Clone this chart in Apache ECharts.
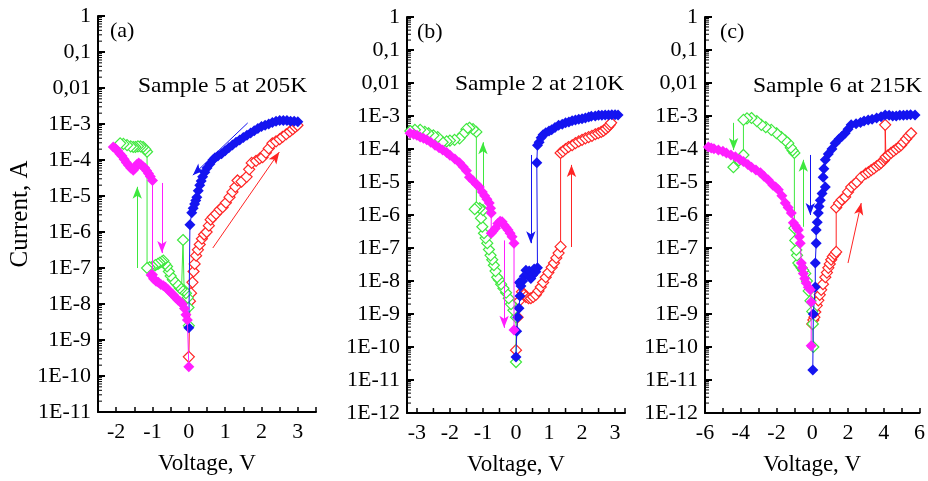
<!DOCTYPE html>
<html><head><meta charset="utf-8">
<script src="https://cdn.jsdelivr.net/npm/echarts@6/dist/echarts.min.js"></script>
<style>html,body{margin:0;padding:0;background:#fff}#c{width:928px;height:481px}</style>
</head><body><div id="c"></div>
<script>
// ---------- data: [Voltage V, Current A] ----------
const aBlue = [[3.0,1.15e-3],[2.9,1.2e-3],[2.8,1.2e-3],[2.7,1.25e-3],[2.6,1.25e-3],[2.5,1.25e-3],[2.4,1.2e-3],[2.3,1.1e-3],[2.2,1.0e-3],[2.1,9.3e-4],[2.0,8.5e-4],[1.9,7.5e-4],[1.8,6.5e-4],[1.7,5.6e-4],[1.6,4.9e-4],[1.5,4.2e-4],[1.4,3.6e-4],[1.3,3.1e-4],[1.2,2.6e-4],[1.1,2.2e-4],[1.0,1.8e-4],[0.9,1.5e-4],[0.8,1.3e-4],[0.72,1.15e-4],[0.66,1.0e-4],[0.58,7.8e-5],[0.5,6e-5],[0.44,4.6e-5],[0.38,3.4e-5],[0.34,2.6e-5],[0.3,2.0e-5],[0.26,1.4e-5],[0.22,9.3e-6],[0.19,7.5e-6],[0.16,6e-6],[0.12,4.6e-6],[0.08,3.4e-6],[0.03,1.6e-6],[0,2.2e-9]];
const aRed = [[0,3.4e-10],[0.03,1.2e-8],[0.06,2.0e-8],[0.1,4e-8],[0.13,8e-8],[0.16,1.3e-7],[0.2,2.2e-7],[0.25,3.2e-7],[0.3,4.5e-7],[0.36,6.5e-7],[0.42,8.5e-7],[0.49,1.0e-6],[0.55,1.5e-6],[0.6,2.2e-6],[0.66,2.6e-6],[0.75,3.2e-6],[0.85,4.2e-6],[0.93,4.9e-6],[1.02,6.5e-6],[1.12,9.3e-6],[1.2,1.3e-5],[1.28,1.8e-5],[1.34,2.7e-5],[1.45,2.5e-5],[1.59,3.4e-5],[1.66,5.5e-5],[1.73,8.3e-5],[1.85,9.5e-5],[1.95,1.1e-4],[2.03,1.2e-4],[2.12,1.6e-4],[2.2,2.1e-4],[2.3,2.9e-4],[2.4,3.3e-4],[2.5,3.8e-4],[2.58,4.4e-4],[2.68,5.2e-4],[2.78,6.2e-4],[2.86,7.2e-4],[2.93,8.3e-4],[2.99,9.3e-4]];
const aGreen = [[0,2.5e-9],[-0.01,8e-9],[-0.03,1.5e-8],[-0.08,2e-8],[-0.13,2.4e-8],[-0.16,6e-7],[-0.2,2.6e-8],[-0.25,2.8e-8],[-0.3,3.3e-8],[-0.35,3.8e-8],[-0.44,4.7e-8],[-0.5,6e-8],[-0.55,8e-8],[-0.6,1.1e-7],[-0.65,1.3e-7],[-0.7,1.6e-7],[-0.74,1.5e-7],[-0.8,1.4e-7],[-0.85,1.3e-7],[-0.92,1.2e-7],[-1.0,1.1e-7],[-1.08,1.05e-7],[-1.15,1.0e-7],[-1.15,1.7e-4],[-1.2,2.0e-4],[-1.26,2.3e-4],[-1.33,2.4e-4],[-1.4,2.4e-4],[-1.47,2.3e-4],[-1.53,2.3e-4],[-1.6,2.4e-4],[-1.7,2.6e-4],[-1.8,2.8e-4],[-1.89,2.9e-4]];
const aMagenta = [[-2.08,2.3e-4],[-2.02,2.1e-4],[-1.96,1.8e-4],[-1.9,1.5e-4],[-1.84,1.3e-4],[-1.78,1.05e-4],[-1.72,8.5e-5],[-1.66,7.2e-5],[-1.6,6e-5],[-1.53,5.2e-5],[-1.48,6e-5],[-1.43,7.5e-5],[-1.38,8.3e-5],[-1.32,7.5e-5],[-1.26,6.5e-5],[-1.21,6e-5],[-1.16,5e-5],[-1.11,4.2e-5],[-1.06,3.5e-5],[-1.0,2.7e-5],[-1.0,6.5e-8],[-1.04,6.4e-8],[-0.97,5e-8],[-0.9,4.3e-8],[-0.84,4e-8],[-0.77,3.5e-8],[-0.7,3.2e-8],[-0.64,2.9e-8],[-0.57,2.5e-8],[-0.5,2.1e-8],[-0.43,1.8e-8],[-0.36,1.5e-8],[-0.3,1.3e-8],[-0.24,1.15e-8],[-0.18,1e-8],[-0.12,7.5e-9],[-0.08,5e-9],[-0.04,3.6e-9],[0,1.8e-10]];

const bBlue = [[3.09,1.07e-3],[3.0,1.1e-3],[2.9,1.1e-3],[2.8,1.08e-3],[2.7,1.07e-3],[2.6,1.05e-3],[2.5,1.05e-3],[2.4,1.0e-3],[2.28,9.8e-4],[2.2,9.3e-4],[2.1,8.7e-4],[2.0,8.3e-4],[1.9,8e-4],[1.8,7.6e-4],[1.7,7.2e-4],[1.6,6.6e-4],[1.5,6.2e-4],[1.4,5.6e-4],[1.29,5.2e-4],[1.18,4.5e-4],[1.08,3.8e-4],[1.0,3.5e-4],[0.9,3.1e-4],[0.82,2.7e-4],[0.76,2.2e-4],[0.7,1.6e-4],[0.65,1.3e-4],[0.63,3.8e-5],[0.65,2.5e-8],[0.6,1.9e-8],[0.55,2.3e-8],[0.5,1.5e-8],[0.45,1.2e-8],[0.4,2e-8],[0.35,1.6e-8],[0.3,2.1e-8],[0.25,1.4e-8],[0.2,1.0e-8],[0.15,7e-9],[0.1,9e-9],[0.12,3.5e-9],[0.09,1.5e-9],[0.05,8e-10],[0.02,3e-10],[0,5e-11]];
const bRed = [[0,8e-11],[0.05,8e-10],[0.1,2.5e-9],[0.18,4.7e-9],[0.24,3.8e-9],[0.3,3.3e-9],[0.38,3e-9],[0.45,3e-9],[0.52,3.3e-9],[0.6,3.8e-9],[0.68,5e-9],[0.75,6.6e-9],[0.82,9e-9],[0.9,1.3e-8],[0.98,1.8e-8],[1.08,2.6e-8],[1.15,3.5e-8],[1.22,5e-8],[1.29,7e-8],[1.35,1.1e-7],[1.35,7.6e-5],[1.42,8.5e-5],[1.5,1.0e-4],[1.59,1.15e-4],[1.7,1.3e-4],[1.8,1.5e-4],[1.9,1.7e-4],[2.0,1.9e-4],[2.1,2.1e-4],[2.2,2.3e-4],[2.3,2.5e-4],[2.4,2.8e-4],[2.49,3e-4],[2.58,3.3e-4],[2.65,3.6e-4],[2.72,4.1e-4],[2.79,4.7e-4],[2.84,5.4e-4],[2.88,6.2e-4]];
const bGreen = [[0,3.5e-11],[0,8e-10],[-0.08,1.3e-9],[-0.15,2e-9],[-0.22,3e-9],[-0.3,4.4e-9],[-0.38,6e-9],[-0.45,8e-9],[-0.52,1.1e-8],[-0.57,1.3e-8],[-0.62,2e-8],[-0.67,3e-8],[-0.72,4.4e-8],[-0.77,6e-8],[-0.82,9e-8],[-0.87,1.4e-7],[-0.92,2e-7],[-0.97,2.8e-7],[-1.02,4.4e-7],[-1.06,8e-7],[-1.0,1.4e-6],[-1.1,1.6e-6],[-1.2,1.7e-6],[-1.25,1.5e-6],[-1.2,3.3e-4],[-1.3,4.0e-4],[-1.41,4.4e-4],[-1.5,4.0e-4],[-1.6,2.8e-4],[-1.71,2.1e-4],[-1.86,1.9e-4],[-2.0,1.8e-4],[-2.1,1.7e-4],[-2.22,1.6e-4],[-2.37,2.3e-4],[-2.5,2.6e-4],[-2.65,3e-4],[-2.76,3.3e-4],[-2.9,3.8e-4],[-3.06,3.8e-4],[-3.2,3.5e-4]];
const bMagenta = [[-3.21,3e-4],[-3.1,2.8e-4],[-3.0,2.6e-4],[-2.9,2.3e-4],[-2.8,2.1e-4],[-2.7,1.9e-4],[-2.58,1.6e-4],[-2.45,1.3e-4],[-2.33,1.1e-4],[-2.22,9.3e-5],[-2.1,7.8e-5],[-2.0,6.5e-5],[-1.85,5e-5],[-1.71,3.8e-5],[-1.6,2.9e-5],[-1.5,2.2e-5],[-1.41,1.4e-5],[-1.3,1.1e-5],[-1.2,8.5e-6],[-1.11,7e-6],[-1.02,5e-6],[-0.95,3.8e-6],[-0.88,3e-6],[-0.81,2.3e-6],[-0.77,1.6e-6],[-0.75,1.15e-6],[-0.75,2.8e-7],[-0.7,3.2e-7],[-0.62,4e-7],[-0.55,5.5e-7],[-0.48,6.5e-7],[-0.42,6.2e-7],[-0.36,5e-7],[-0.3,4.2e-7],[-0.24,3.5e-7],[-0.18,2.8e-7],[-0.12,2.2e-7],[-0.06,1.4e-7],[-0.06,3.3e-10]];

const cBlue = [[5.75,1.07e-3],[5.5,1.1e-3],[5.3,1.07e-3],[5.1,1.05e-3],[4.9,1.05e-3],[4.7,1.0e-3],[4.5,1.0e-3],[4.3,1.05e-3],[4.08,1.07e-3],[3.85,9.5e-4],[3.6,8.7e-4],[3.35,8e-4],[3.13,7.6e-4],[2.9,7e-4],[2.7,6.4e-4],[2.45,5.8e-4],[2.18,5.4e-4],[2.0,4e-4],[1.84,3.0e-4],[1.65,2.4e-4],[1.5,2.0e-4],[1.28,1.5e-4],[1.1,1.0e-4],[0.9,7e-5],[0.73,4.7e-5],[0.65,2.5e-5],[0.61,1.4e-5],[0.73,7e-6],[0.55,4.5e-6],[0.45,2.8e-6],[0.38,1.8e-6],[0.34,1.15e-6],[0.28,6e-7],[0.22,3.5e-7],[0.22,1.4e-7],[0.17,3.5e-8],[0.17,6.6e-9],[0.06,1e-9],[0.03,2e-11]];
const cRed = [[0,5e-10],[0.06,6.6e-10],[0.12,8e-10],[0.17,1.15e-9],[0.25,1.8e-9],[0.34,2.6e-9],[0.42,3.8e-9],[0.5,5.4e-9],[0.6,8e-9],[0.73,1.3e-8],[0.82,1.8e-8],[0.9,2.5e-8],[0.98,3.3e-8],[1.06,4.4e-8],[1.15,5.5e-8],[1.25,6.5e-8],[1.34,7.6e-8],[1.34,1.7e-6],[1.5,2.3e-6],[1.65,2.9e-6],[1.84,3.5e-6],[2.0,5e-6],[2.18,7e-6],[2.35,8.5e-6],[2.5,1.0e-5],[2.74,1.4e-5],[3.0,1.8e-5],[3.15,2.0e-5],[3.3,2.3e-5],[3.45,2.6e-5],[3.6,3e-5],[3.75,3.4e-5],[3.85,3.8e-5],[4.0,4.5e-5],[4.08,5.2e-5],[4.08,5.4e-4],[4.12,5.8e-5],[4.25,6.5e-5],[4.41,7.6e-5],[4.55,8.7e-5],[4.7,1.0e-4],[4.85,1.15e-4],[4.97,1.3e-4],[5.1,1.6e-4],[5.25,2e-4],[5.4,2.5e-4],[5.53,3e-4]];
const cGreen = [[0.06,1e-10],[0.03,5e-10],[0,1.2e-9],[-0.1,2.5e-9],[-0.2,5e-9],[-0.3,1e-8],[-0.39,1.7e-8],[-0.5,2.1e-8],[-0.6,2.5e-8],[-0.7,3e-8],[-0.78,3.5e-8],[-0.85,6e-8],[-0.89,8.7e-8],[-0.95,1.7e-7],[-1.0,4e-7],[-1.0,7.6e-5],[-1.1,9e-5],[-1.2,1.1e-4],[-1.34,1.5e-4],[-1.5,1.8e-4],[-1.73,2.3e-4],[-2.0,3e-4],[-2.29,3.8e-4],[-2.6,4.6e-4],[-2.85,5.4e-4],[-3.1,7e-4],[-3.4,8.7e-4],[-3.65,8.5e-4],[-3.85,7.6e-4],[-3.85,6.6e-5],[-4.1,4.5e-5],[-4.41,2.8e-5]];
const cMagenta = [[-5.81,1.15e-4],[-5.65,1.08e-4],[-5.5,1.02e-4],[-5.25,9.3e-5],[-5.0,8.5e-5],[-4.8,7.6e-5],[-4.55,6.6e-5],[-4.3,5.8e-5],[-4.05,4.8e-5],[-3.85,4.2e-5],[-3.6,3.4e-5],[-3.4,2.8e-5],[-3.15,2.3e-5],[-2.9,1.9e-5],[-2.7,1.5e-5],[-2.46,1.15e-5],[-2.2,8e-6],[-2.05,7e-6],[-1.9,5.8e-6],[-1.7,3.8e-6],[-1.51,2.3e-6],[-1.35,1.7e-6],[-1.17,1.15e-6],[-1.06,5.8e-7],[-0.95,4.8e-7],[-0.85,4e-7],[-0.78,3.5e-7],[-0.72,2.2e-7],[-0.67,1.4e-7],[-0.61,3.5e-8],[-0.55,2.5e-8],[-0.5,1.7e-8],[-0.42,1.2e-8],[-0.34,8.7e-9],[-0.22,6.5e-9],[-0.11,5.4e-9],[-0.06,2.3e-9],[-0.06,1.1e-10]];

// arrows: [start, end]
const aArrowBlue = [[1.62,1.07e-3],[0.11,3.8e-5]];
const aArrowRed = [[0.66,3.6e-7],[2.49,1.66e-4]];
const aArrowGreen = [[-1.42,1e-7],[-1.42,1.8e-5]];
const aArrowMagenta = [[-0.74,2.3e-5],[-0.74,2.6e-7]];
const bArrowBlue = [[0.45,6.6e-5],[0.45,1.4e-7]];
const bArrowRed = [[1.68,1.07e-7],[1.68,3.3e-5]];
const bArrowGreen = [[-1.0,2.8e-6],[-1.0,1.6e-4]];
const bArrowMagenta = [[-0.36,1.7e-7],[-0.36,3.8e-10]];
const cArrowBlue = [[-0.11,6.6e-5],[-0.11,1e-6]];
const cArrowRed = [[2.0,3.5e-8],[2.74,2.3e-6]];
const cArrowGreenDown = [[-4.4,6.2e-4],[-4.4,9.3e-5]];
const cArrowGreenUp = [[-0.5,4.4e-7],[-0.5,4.7e-5]];

// tick labels / texts
const panelLetters = ['(a)', '(b)', '(c)'];
const panelTitles = ['Sample 5 at 205K', 'Sample 2 at 210K', 'Sample 6 at 215K'];
const xRanges = [[-2.5, 3.5], [-3.3, 3.3], [-6, 6]];
const yMinExps = [-11, -12, -12];
const bHalfTicks = [-2.5, -1.5, -0.5, 0.5, 1.5, 2.5];
const minorMantissas = [2, 3, 4, 5, 6, 7, 8, 9];
const xName = 'Voltage, V';
const yName = 'Current, A';

// ---------- chart ----------
const FONT = '"Liberation Serif","Times New Roman",serif';
const BLUE = '#1414f0', RED = '#ff2424', GREEN = '#3ee83e', MAG = '#ff1eff';
const chart = echarts.init(document.getElementById('c'), null, {renderer: 'canvas'});

function yLabel(v) {
  const e = Math.round(Math.log10(v));
  if (e === 0) return '1';
  if (e === -1) return '0,1';
  if (e === -2) return '0,01';
  return '1E' + e;
}
const grids = [
  {left: 98, top: 16, width: 218, height: 396},
  {left: 407, top: 17, width: 218, height: 396},
  {left: 705, top: 17, width: 217, height: 396}
];
const axisLineStyle = {color: '#000', width: 2};
const labelStyle = {color: '#000', fontFamily: FONT, fontSize: 22};

const xAxes = [0, 1, 2].map(i => {
  const ax = {
    type: 'value', gridIndex: i, min: xRanges[i][0], max: xRanges[i][1],
    splitLine: {show: false},
    axisLine: {show: true, onZero: false, lineStyle: axisLineStyle},
    axisTick: {show: true, inside: true, length: 5, lineStyle: {color: '#000', width: 1.5}},
    axisLabel: Object.assign({margin: 9}, labelStyle),
    name: xName, nameLocation: 'middle', nameGap: 40,
    nameTextStyle: {color: '#000', fontFamily: FONT, fontSize: 23}
  };
  if (i === 0) {
    ax.interval = 0.5;
    ax.axisLabel.formatter = v => Number.isInteger(v) ? String(v) : '';
  } else if (i === 1) {
    ax.axisLabel.formatter = v => Number.isInteger(v) ? String(v) : '';
  } else {
    ax.interval = 1;
    ax.axisLabel.formatter = v => (v % 2 === 0) ? String(v) : '';
  }
  return ax;
});
const yAxes = [0, 1, 2].map(i => {
  const ax = {
    type: 'log', logBase: 10, gridIndex: i, min: Math.pow(10, yMinExps[i]), max: 1,
    interval: 1, position: 'left',
    splitLine: {show: false},
    axisLine: {show: true, onZero: false, lineStyle: axisLineStyle},
    axisTick: {show: true, inside: true, length: 7, lineStyle: {color: '#000', width: 2}},
    axisLabel: Object.assign({margin: 7, formatter: yLabel}, labelStyle)
  };
  if (i === 0) {
    ax.name = yName; ax.nameLocation = 'middle'; ax.nameGap = 63;
    ax.nameTextStyle = {color: '#000', fontFamily: FONT, fontSize: 25};
  }
  return ax;
});

function arrowML(color, arrows) {
  return {
    silent: true, symbol: ['none', 'arrow'], symbolSize: [7, 12], animation: false,
    label: {show: false}, emphasis: {disabled: true},
    lineStyle: {color: color, width: 1, type: 'solid'},
    data: arrows.map(a => [{coord: a[0]}, {coord: a[1]}])
  };
}
function ser(data, color, filled, idx, arrows, z) {
  return {
    type: 'line', xAxisIndex: idx, yAxisIndex: idx, data: data, z: z,
    symbol: 'diamond', symbolSize: 11, showSymbol: true, animation: false,
    lineStyle: {color: color, width: 1},
    itemStyle: filled ? {color: color} : {color: '#fff', borderColor: color, borderWidth: 1.2},
    emphasis: {disabled: true},
    markLine: arrowML(color, arrows)
  };
}
// minor ticks of the log axes, placed through the axes' own scales
function yMinorTickSeries(idx) {
  const pts = [];
  for (let e = yMinExps[idx]; e < 0; e++) minorMantissas.forEach(m => pts.push([xRanges[idx][0], m * Math.pow(10, e)]));
  return {
    type: 'custom', xAxisIndex: idx, yAxisIndex: idx, data: pts, silent: true, z: 1, clip: false,
    animation: false,
    renderItem: (params, api) => {
      const p = api.coord([api.value(0), api.value(1)]);
      return {type: 'line', shape: {x1: p[0], y1: p[1], x2: p[0] + 4, y2: p[1]},
        style: {stroke: '#000', lineWidth: 1}};
    }
  };
}
function xHalfTickSeries(idx, vals) {
  return {
    type: 'custom', xAxisIndex: idx, yAxisIndex: idx, silent: true, z: 1, clip: false, animation: false,
    data: vals.map(v => [v, Math.pow(10, yMinExps[idx])]),
    renderItem: (params, api) => {
      const p = api.coord([api.value(0), api.value(1)]);
      return {type: 'line', shape: {x1: p[0], y1: p[1], x2: p[0], y2: p[1] - 5},
        style: {stroke: '#000', lineWidth: 1.5}};
    }
  };
}
const series = [
  yMinorTickSeries(0), yMinorTickSeries(1), yMinorTickSeries(2),
  xHalfTickSeries(1, bHalfTicks),
  ser(aRed, RED, false, 0, [aArrowRed], 2),
  ser(aGreen, GREEN, false, 0, [aArrowGreen], 3),
  ser(aBlue, BLUE, true, 0, [aArrowBlue], 4),
  ser(aMagenta, MAG, true, 0, [aArrowMagenta], 5),
  ser(bRed, RED, false, 1, [bArrowRed], 2),
  ser(bGreen, GREEN, false, 1, [bArrowGreen], 3),
  ser(bBlue, BLUE, true, 1, [bArrowBlue], 4),
  ser(bMagenta, MAG, true, 1, [bArrowMagenta], 5),
  ser(cRed, RED, false, 2, [cArrowRed], 2),
  ser(cGreen, GREEN, false, 2, [cArrowGreenDown, cArrowGreenUp], 3),
  ser(cBlue, BLUE, true, 2, [cArrowBlue], 4),
  ser(cMagenta, MAG, true, 2, [], 5)
];

const letterPos = [[110, 31], [417, 32], [720, 32]];
const titlePos = [[138, 86], [455, 84], [753, 86]];
const graphics = [];
for (let i = 0; i < 3; i++) {
  graphics.push({type: 'text', x: letterPos[i][0], y: letterPos[i][1], silent: true,
    style: {text: panelLetters[i], font: '22px ' + FONT, fill: '#000', textAlign: 'left', textVerticalAlign: 'middle'}});
  graphics.push({type: 'text', x: titlePos[i][0], y: titlePos[i][1], scaleX: 1.12, silent: true,
    style: {text: panelTitles[i], font: '21px ' + FONT, fill: '#000', textAlign: 'left', textVerticalAlign: 'middle'}});
}

chart.setOption({
  backgroundColor: '#fff',
  animation: false,
  grid: grids,
  xAxis: xAxes,
  yAxis: yAxes,
  series: series,
  graphic: graphics
});
</script></body></html>
